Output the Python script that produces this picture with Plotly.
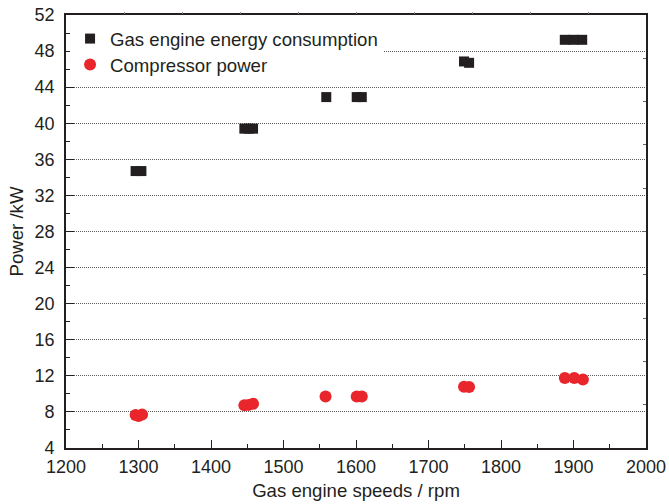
import plotly.graph_objects as go

# Gas engine energy consumption (kW) vs engine speed (rpm)
gas_speed = [1296, 1304, 1446, 1452, 1458, 1559, 1601, 1608, 1749, 1756, 1888, 1900, 1912]
gas_power = [34.7, 34.7, 39.4, 39.4, 39.4, 42.9, 42.9, 42.9, 46.85, 46.7, 49.25, 49.25, 49.25]

# Compressor power (kW) vs engine speed (rpm)
comp_speed = [1296, 1300, 1305, 1446, 1452, 1458, 1558, 1601, 1608, 1749, 1756, 1888, 1901, 1913]
comp_power = [7.65, 7.55, 7.7, 8.75, 8.78, 8.9, 9.7, 9.7, 9.7, 10.8, 10.75, 11.75, 11.75, 11.6]

x_ticks = [1200, 1300, 1400, 1500, 1600, 1700, 1800, 1900, 2000]
y_ticks = [4, 8, 12, 16, 20, 24, 28, 32, 36, 40, 44, 48, 52]

FONT = "Liberation Sans, Arial, sans-serif"
INK = "#231f20"

fig = go.Figure()
fig.add_trace(go.Scatter(
    x=gas_speed, y=gas_power, mode="markers",
    name="Gas engine energy consumption", legend="legend",
    marker=dict(symbol="square", size=10, color=INK, line=dict(width=0)),
))
fig.add_trace(go.Scatter(
    x=comp_speed, y=comp_power, mode="markers",
    name="Compressor power", legend="legend2",
    marker=dict(symbol="circle", size=12, color="#e8262b", line=dict(width=0)),
))
# helper trace so the top/right frame axes get rendered
fig.add_trace(go.Scatter(
    x=[None], y=[None], xaxis="x2", yaxis="y2", showlegend=False, hoverinfo="skip",
))

legend_style = dict(
    xanchor="left", yanchor="middle", borderwidth=0,
    font=dict(family=FONT, size=18.6, color=INK),
    itemwidth=30,
)

fig.update_layout(
    width=669, height=504,
    margin=dict(l=66, r=23, t=15, b=56, autoexpand=False),
    paper_bgcolor="white", plot_bgcolor="white",
    font=dict(family=FONT, size=18.6, color=INK),
    showlegend=True,
    legend=dict(x=0.007, y=0.9446, bgcolor="white", **legend_style),
    legend2=dict(x=0.007, y=0.8845, bgcolor="rgba(0,0,0,0)", **legend_style),
    xaxis=dict(
        range=[1200, 2000], tickvals=x_ticks,
        ticks="inside", ticklen=8, tickwidth=1.2, tickcolor=INK,
        minor=dict(dtick=50, ticks="inside", ticklen=4, tickwidth=1.2, tickcolor=INK),
        showline=True, linecolor=INK, linewidth=1.6, mirror=True,
        showgrid=False, zeroline=False, automargin=False,
        tickfont=dict(size=18), ticklabelstandoff=2,
        title=dict(text="Gas engine speeds / rpm", font=dict(size=18.6), standoff=8),
    ),
    yaxis=dict(
        range=[4, 52], tickvals=y_ticks,
        ticks="inside", ticklen=8, tickwidth=1.2, tickcolor=INK,
        minor=dict(dtick=2, tick0=0, ticks="inside", ticklen=4, tickwidth=1.2, tickcolor=INK,
                   showgrid=False),
        showline=True, linecolor=INK, linewidth=1.6, mirror=True,
        showgrid=True, gridcolor="#5a5a5a", gridwidth=1, griddash="1px,1px",
        zeroline=False, automargin=False,
        tickfont=dict(size=18), ticklabelstandoff=6,
        title=dict(text="Power /kW", font=dict(size=18.6), standoff=6),
    ),
    xaxis2=dict(
        overlaying="x", side="top", range=[0, 10], tickvals=list(range(1, 10)),
        ticks="outside", ticklen=2, tickwidth=1, tickcolor="#888",
        showticklabels=False, showgrid=False, zeroline=False, showline=False,
        automargin=False,
    ),
    yaxis2=dict(
        overlaying="y", side="right", range=[0, 10], tickvals=list(range(1, 10)),
        ticks="inside", ticklen=3, tickwidth=1, tickcolor="#666",
        showticklabels=False, showgrid=False, zeroline=False, showline=False,
        automargin=False,
    ),
)

fig.write_html("out.html")
